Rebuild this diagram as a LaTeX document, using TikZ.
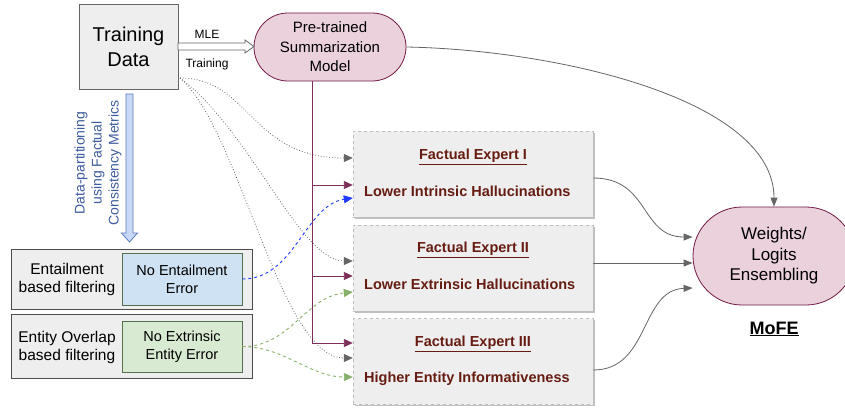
\documentclass[tikz,border=0pt]{standalone}
\usepackage{fontspec}
\setmainfont{Liberation Sans}
\usetikzlibrary{arrows.meta,shadows,calc}
\definecolor{boxgray}{HTML}{EEEEEE}
\definecolor{pinkf}{HTML}{EAD1DC}
\definecolor{magd}{HTML}{741B47}
\definecolor{magl}{HTML}{7E2F59}
\definecolor{bluef}{HTML}{CFE2F3}
\definecolor{greenf}{HTML}{D9EAD3}
\definecolor{innerd}{HTML}{55704D}
\definecolor{exred}{RGB}{102,28,18}
\definecolor{arrblue}{HTML}{C9DAF8}
\definecolor{arrblued}{HTML}{5B7BBE}
\definecolor{txtblue}{HTML}{3D5B9E}
\definecolor{dashblue}{HTML}{1F3CFF}
\definecolor{dashgreen}{HTML}{88B06A}
\definecolor{lgray}{HTML}{666666}
\begin{document}
\begin{tikzpicture}[x=1pt,y=1pt,
  tdbox/.style={draw=lgray,fill=boxgray,line width=0.8pt,minimum width=99pt,minimum height=85pt,align=center,font=\fontsize{20}{24.5}\selectfont},
  stadium/.style={draw=magd,fill=pinkf,line width=0.8pt,align=center},
  expbox/.style={draw=black!25,dashed,fill=boxgray,minimum width=240pt,minimum height=86pt,
     drop shadow={shadow xshift=1.5pt,shadow yshift=-1.5pt,opacity=0.35,fill=black!70}},
  extitle/.style={font=\fontsize{14.5}{17}\selectfont\bfseries,text=exred,inner sep=0pt},
  exline/.style={font=\fontsize{14.5}{17}\selectfont\bfseries,text=exred,inner sep=0pt,anchor=west},
  outerbox/.style={draw=black!70,fill=boxgray,line width=0.8pt,minimum width=241pt,
     drop shadow={shadow xshift=1.2pt,shadow yshift=-1.2pt,opacity=0.3,fill=black!70}},
  innerbox/.style={draw=innerd,line width=0.8pt,minimum width=120pt,align=center,font=\fontsize{14.5}{18}\selectfont},
  lefttxt/.style={align=center,font=\fontsize{15.5}{18}\selectfont,inner sep=0pt},
  dotarrow/.style={draw=lgray,dotted,line width=0.8pt,-{Triangle[length=9pt,width=8pt]}},
  magarrow/.style={draw=magl,line width=0.9pt,-{Triangle[length=9pt,width=8pt]}},
  grayarrow/.style={draw=lgray,line width=0.8pt,-{Triangle[length=9pt,width=7pt]}},
  smalltxt/.style={font=\fontsize{12}{14}\selectfont,inner sep=0pt}
]
\clip (0,0) rectangle (845,-410);
\fill[white] (0,0) rectangle (845,-410);

% main nodes
\node[tdbox] (td) at (128.5,-47) {Training\\Data};
\node[stadium,minimum width=152pt,minimum height=68pt,rounded corners=34pt,
  font=\fontsize{15}{19.5}\selectfont] (model) at (330,-47) {Pre-trained\\Summarization\\Model};
\node[stadium,minimum width=162pt,minimum height=98pt,rounded corners=49pt,
  font=\fontsize{17}{20.5}\selectfont] (ens) at (774,-256) {Weights/\\Logits\\Ensembling};
\node[font=\fontsize{18}{20}\selectfont\bfseries,inner sep=0pt] (mofe) at (774,-329) {\underline{MoFE}};

% MLE hollow arrow
\draw[draw=lgray,fill=white,line width=0.8pt] (178,-43) -- (245,-43) -- (245,-40) -- (254,-46.5) -- (245,-53) -- (245,-50) -- (178,-50) -- cycle;
\node[smalltxt] (mle) at (207,-34) {MLE};
\node[smalltxt] (trn) at (207,-64) {Training};

% experts
\node[expbox] (e1) at (473,-174) {};
\node[expbox] (e2) at (473,-268) {};
\node[expbox] (e3) at (473,-361.5) {};
\node[extitle] (e1t) at (473,-157) {\underline{Factual Expert I}};
\node[exline] (e1s) at (364,-191) {Lower Intrinsic Hallucinations};
\node[extitle] (e2t) at (473,-250) {\underline{Factual Expert II}};
\node[exline] (e2s) at (364,-284) {Lower Extrinsic Hallucinations};
\node[extitle] (e3t) at (473,-344) {\underline{Factual Expert III}};
\node[exline] (e3s) at (364,-379) {Higher Entity Informativeness};

% left filter boxes
\node[outerbox,minimum height=60pt] (ent) at (131.5,-279) {};
\node[innerbox,fill=bluef,minimum height=52pt] (entin) at (182,-279) {No Entailment\\Error};
\node[lefttxt] (entt) at (67,-279) {Entailment\\based filtering};
\node[outerbox,minimum height=64pt] (ov) at (131.5,-346) {};
\node[innerbox,fill=greenf,minimum height=51pt] (ovin) at (182,-346.5) {No Extrinsic\\Entity Error};
\node[lefttxt] (ovt) at (67,-347) {Entity Overlap\\based filtering};

% blue partition arrow
\draw[draw=arrblued,fill=arrblue,line width=0.8pt] (126,-94) -- (133,-94) -- (133,-233) -- (137.5,-233) -- (129.5,-242) -- (121.5,-233) -- (126,-233) -- cycle;
\node[rotate=90,align=center,text=txtblue,font=\fontsize{14}{17}\selectfont] (dp) at (98,-163) {Data-partitioning\\using Factual\\Consistency Metrics};

% dotted arrows from training data
\coordinate (ds) at (180,-78);
\draw[dotarrow] (ds) .. controls (250,-78) and (250,-158) .. (e1.west |- 0,-158);
\draw[dotarrow] (ds) .. controls (250,-130) and (300,-261) .. (e2.west |- 0,-261);
\draw[dotarrow] (ds) .. controls (240,-130) and (280,-358) .. (e3.west |- 0,-358);

% model tree
\coordinate (j1) at (312,-185);
\coordinate (j2) at (312,-276);
\coordinate (j3) at (312,-343);
\draw[draw=magl,line width=0.9pt] (model.south -| j3) -- (j3);
\draw[magarrow] (j1) -- (e1.west |- j1);
\draw[magarrow] (j2) -- (e2.west |- j2);
\draw[magarrow] (j3) -- (e3.west |- j3);

% dashed filter arrows
\draw[draw=dashblue,dashed,line width=0.9pt,-{Triangle[length=9pt,width=8pt]}] (entin.east) .. controls (295,-279) and (305,-205) .. (e1.west |- 0,-198);
\draw[draw=dashgreen,dashed,line width=0.9pt,-{Triangle[length=9pt,width=8pt]}] (ovin.east) .. controls (290,-347) and (305,-297) .. (e2.west |- 0,-292);
\draw[draw=dashgreen,dashed,line width=0.9pt,-{Triangle[length=9pt,width=8pt]}] (ovin.east) .. controls (285,-347) and (310,-377) .. (e3.west |- 0,-377);

% to ensembling
\draw[grayarrow] (model.east) .. controls (560,-50) and (774,-100) .. (ens.north);
\draw[grayarrow] (e1.east |- 0,-178) .. controls (650,-178) and (640,-237) .. (ens.west |- 0,-237);
\draw[grayarrow] (e2.east |- 0,-263) -- (ens.west |- 0,-263);
\draw[grayarrow] (e3.east |- 0,-370) .. controls (650,-370) and (640,-290) .. (ens.west |- 0,-288);
\end{tikzpicture}
\end{document}
